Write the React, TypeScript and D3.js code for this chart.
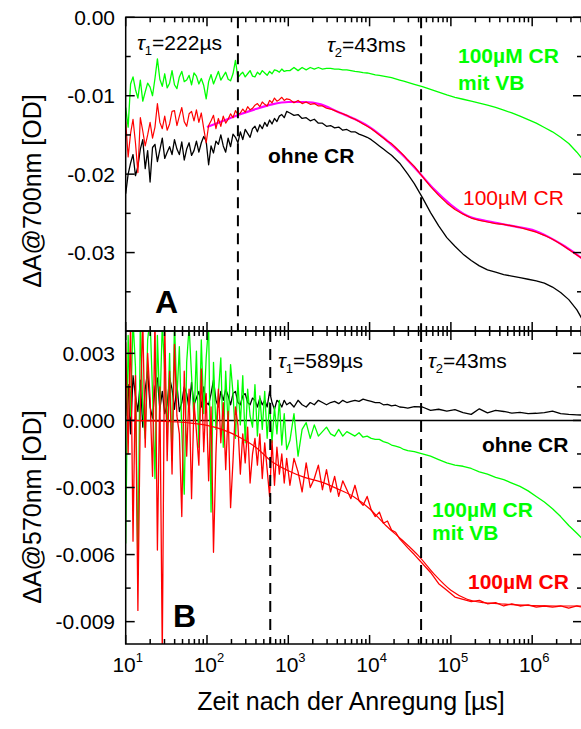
import React from "react";
import * as d3 from "d3";

// log10 of time (µs) shared by all measured traces
const logTime = [
  1.00,1.03,1.06,1.09,1.12,1.15,1.18,1.21,1.24,1.27,
  1.30,1.33,1.36,1.39,1.42,1.45,1.48,1.51,1.54,1.57,
  1.60,1.63,1.66,1.69,1.72,1.75,1.78,1.81,1.84,1.87,
  1.90,1.93,1.96,1.99,2.02,2.05,2.08,2.11,2.14,2.17,
  2.20,2.23,2.26,2.29,2.32,2.35,2.38,2.41,2.44,2.47,
  2.50,2.53,2.56,2.59,2.62,2.65,2.68,2.71,2.74,2.77,
  2.80,2.83,2.86,2.89,2.92,2.95,2.98,
  3.02,3.07,3.12,3.17,3.22,3.27,3.32,3.37,3.42,3.47,
  3.52,3.57,3.62,3.67,3.72,3.77,3.82,3.87,3.92,3.97,
  4.02,4.07,4.12,4.17,4.22,4.27,4.32,4.37,4.42,4.47,
  4.55,4.65,4.75,4.85,4.95,5.05,5.15,5.25,5.35,5.45,
  5.55,5.65,5.75,5.85,5.95,6.05,6.15,6.25,6.35,6.45,
  6.55,6.62,
];

// Panel A, ΔA@700nm in mOD
const greenA = [
  -11.5,-14.0,-8.5,-7.6,-9.2,-10.3,-8.0,-10.7,-9.5,-8.4,
  -8.9,-10.0,-7.8,-5.3,-7.9,-8.8,-7.2,-9.0,-8.4,-6.8,
  -8.6,-9.1,-7.6,-6.9,-8.2,-8.0,-7.4,-8.6,-7.1,-7.5,
  -8.5,-7.8,-8.7,-10.4,-8.2,-7.3,-8.5,-7.7,-6.9,-8.0,
  -7.5,-7.0,-7.9,-8.1,-7.2,-5.5,-7.7,-7.3,-7.0,-7.6,
  -7.2,-6.8,-7.5,-7.6,-7.0,-7.3,-6.8,-7.1,-7.4,-6.9,
  -7.2,-6.7,-6.8,-7.0,-6.6,-6.9,-6.8,
  -6.8,-6.4,-6.8,-6.4,-6.7,-6.4,-6.6,-6.4,-6.6,-6.5,
  -6.5,-6.6,-6.6,-6.7,-6.7,-6.8,-6.9,-6.95,-7.05,-7.1,
  -7.2,-7.35,-7.4,-7.5,-7.6,-7.7,-7.85,-8.0,-8.15,-8.3,
  -8.55,-8.85,-9.2,-9.55,-9.9,-10.2,-10.45,-10.7,-10.95,-11.2,
  -11.5,-11.85,-12.2,-12.6,-13.05,-13.5,-14.05,-14.6,-15.3,-16.1,
  -17.2,-18.1,
];
const blackA = [
  -22.5,-20.0,-18.6,-17.5,-20.2,-19.0,-16.8,-15.6,-19.3,-17.0,
  -21.0,-16.6,-16.2,-18.4,-16.9,-15.4,-18.0,-17.2,-16.5,-17.5,
  -15.6,-16.8,-17.5,-15.9,-18.2,-16.8,-16.0,-17.6,-17.0,-15.8,
  -17.2,-16.0,-15.2,-15.8,-18.8,-16.4,-17.3,-15.8,-16.2,-15.0,
  -16.4,-17.2,-15.4,-16.5,-14.9,-15.3,-16.0,-14.6,-15.6,-14.3,
  -14.8,-15.3,-14.2,-13.9,-14.6,-13.7,-14.2,-13.4,-13.9,-13.1,
  -13.6,-12.9,-13.3,-12.6,-12.4,-12.8,-12.0,
  -12.2,-12.5,-12.4,-12.9,-12.8,-13.2,-13.0,-13.5,-13.5,-13.9,
  -13.8,-14.1,-14.0,-14.4,-14.3,-14.6,-14.6,-14.9,-15.1,-15.3,
  -15.6,-16.0,-16.4,-16.8,-17.2,-17.6,-18.1,-18.6,-19.3,-20.0,
  -21.2,-23.0,-24.9,-26.6,-28.1,-29.2,-30.2,-31.0,-31.7,-32.2,
  -32.5,-32.8,-33.0,-33.2,-33.4,-33.6,-33.9,-34.4,-35.1,-36.0,
  -37.3,-38.6,
];
const redA = [
  -13.3,-17.8,-14.8,-13.0,-16.0,-19.8,-12.8,-14.5,-16.4,-15.0,
  -13.4,-15.4,-14.0,-11.0,-13.4,-14.2,-12.6,-14.4,-13.6,-12.0,
  -11.9,-13.8,-12.6,-11.5,-13.3,-13.9,-12.3,-12.0,-13.2,-11.8,
  -13.4,-12.2,-14.2,-16.0,-13.8,-13.2,-12.5,-14.2,-12.9,-13.9,
  -12.6,-13.5,-13.0,-12.3,-12.8,-11.9,-12.4,-12.2,-11.7,-12.1,
  -11.4,-11.8,-11.6,-11.2,-11.0,-11.4,-10.8,-11.1,-11.3,-10.6,
  -10.9,-10.3,-10.7,-10.5,-10.2,-10.6,-10.4,
  -10.5,-10.9,-10.6,-11.0,-10.8,-11.1,-11.0,-11.3,-11.3,-11.6,
  -11.7,-11.9,-12.1,-12.3,-12.5,-12.8,-13.0,-13.3,-13.6,-13.9,
  -14.2,-14.6,-15.0,-15.4,-15.8,-16.1,-16.6,-17.1,-17.6,-18.2,
  -19.0,-20.3,-21.6,-22.7,-23.7,-24.5,-25.1,-25.6,-25.9,-26.1,
  -26.3,-26.4,-26.6,-26.8,-27.1,-27.4,-27.8,-28.3,-28.9,-29.6,
  -30.3,-30.8,
];
const fitLogTimeA = [2.0,2.2,2.4,2.6,2.8,3.0,3.2,3.4,3.6,3.8,4.0,4.2,4.4,4.6,4.8,5.0,5.2,5.4,5.6,5.8,6.0,6.2,6.4,6.62];
const fitA = [-14.0,-13.2,-12.4,-11.7,-11.1,-10.8,-10.8,-11.1,-12.0,-12.9,-14.0,-15.6,-17.5,-19.7,-22.0,-23.9,-25.3,-25.9,-26.3,-26.7,-27.1,-28.0,-29.2,-30.8];

// Panel B, ΔA@570nm in mOD
const blackB = [
  0.2,1.6,-0.6,2.0,1.1,0.4,1.8,-0.3,1.4,2.2,
  0.6,0.1,1.5,1.9,0.5,1.3,0.3,0.7,1.9,1.4,
  0.5,1.6,0.4,0.8,1.5,1.2,0.5,1.7,0.7,1.0,
  1.3,0.6,1.5,0.8,0.7,1.2,1.8,0.9,0.6,1.3,
  0.9,1.4,1.1,0.7,1.2,1.3,0.8,0.7,1.1,1.2,
  0.8,0.7,1.0,0.9,0.6,1.0,0.7,0.9,0.6,1.3,
  0.8,0.5,0.9,0.8,0.6,0.9,0.7,
  0.8,0.6,0.9,0.7,0.6,0.8,0.7,0.9,0.8,0.7,
  0.8,0.85,0.75,0.9,0.8,0.85,0.9,0.85,0.95,0.9,
  0.85,0.8,0.8,0.7,0.72,0.65,0.68,0.6,0.58,0.55,
  0.62,0.6,0.45,0.5,0.42,0.48,0.35,0.27,0.52,0.34,
  0.45,0.4,0.33,0.36,0.3,0.32,0.35,0.42,0.3,0.27,
  0.25,0.24,
];
const greenB = [
  -5.5,3.8,0.2,4.5,2.4,-6.8,4.5,0.5,-0.8,3.6,
  4.6,1.2,-2.6,3.8,0.4,4.3,2.2,-0.6,3.0,-1.8,
  4.4,1.0,3.3,-0.5,-3.3,2.6,4.2,2.0,0.0,3.1,
  -1.2,3.6,0.3,2.8,4.3,-4.1,2.6,-0.4,1.2,2.8,
  -1.2,2.2,-0.3,2.5,1.2,-0.8,1.8,-0.2,2.0,-1.0,
  1.4,0.2,-0.3,1.6,-0.7,1.1,-0.4,1.3,-0.8,0.8,
  -1.0,0.6,-0.6,0.9,-1.1,0.3,-1.3,
  -0.9,0.3,-1.6,-0.4,-0.1,-0.8,-0.2,-0.7,-0.5,-0.3,
  -0.6,-0.7,-0.4,-0.7,-0.5,-0.6,-0.7,-0.55,-0.75,-0.7,
  -0.8,-0.85,-0.85,-0.95,-1.0,-1.1,-1.15,-1.2,-1.3,-1.35,
  -1.4,-1.5,-1.6,-1.75,-1.9,-2.0,-2.05,-2.15,-2.3,-2.4,
  -2.55,-2.65,-2.8,-2.95,-3.15,-3.4,-3.65,-3.95,-4.3,-4.7,
  -5.05,-5.3,
];
const redB = [
  3.5,-1.5,4.5,-5.4,2.0,-8.5,0.5,4.5,-1.2,3.0,
  1.0,-2.5,4.6,-5.8,1.5,-10.5,4.5,-1.8,2.2,-2.4,
  3.4,0.2,-0.6,-4.3,2.2,-1.6,1.4,-3.5,0.8,-0.5,
  -2.0,2.3,-1.4,1.2,-2.7,0.6,-5.9,-1.5,1.4,-1.0,
  0.8,-2.2,0.4,-3.9,-1.8,0.6,-0.2,-2.4,-0.6,-1.9,
  -0.3,-2.8,-1.5,-0.8,-2.0,-0.6,-2.6,-1.0,-2.2,-3.4,
  -0.9,-2.9,-1.2,-2.4,-1.5,-2.8,-1.7,
  -2.9,-1.7,-2.3,-3.2,-1.9,-3.0,-2.6,-2.0,-3.1,-2.2,
  -3.2,-2.5,-3.4,-2.7,-3.1,-3.5,-2.9,-3.6,-3.8,-3.4,
  -4.0,-4.3,-4.1,-4.6,-4.5,-4.9,-5.0,-5.3,-5.5,-5.7,
  -6.0,-6.4,-6.8,-7.3,-7.6,-7.9,-8.0,-8.1,-8.05,-8.2,
  -8.15,-8.3,-8.2,-8.3,-8.25,-8.35,-8.3,-8.35,-8.3,-8.4,
  -8.3,-8.35,
];
const fitLogTimeB = [1.0,1.4,1.8,2.0,2.2,2.4,2.6,2.8,3.0,3.2,3.4,3.6,3.8,4.0,4.2,4.4,4.6,4.8,5.0,5.2,5.4,5.6,5.8,6.0,6.3,6.62];
const fitB = [0,-0.03,-0.12,-0.22,-0.42,-0.75,-1.2,-1.85,-2.25,-2.55,-2.75,-3.05,-3.4,-3.95,-4.7,-5.35,-6.05,-6.9,-7.6,-8.0,-8.15,-8.2,-8.25,-8.28,-8.3,-8.3];

const tauLinesA = [240, 43000];
const tauLinesB = [600, 43000];
const yTicksA = [0, -10, -20, -30];
const yMinorA = [-5, -15, -25, -35];
const yTicksB = [3, 0, -3, -6, -9];
const yMinorB = [1.5, -1.5, -4.5, -7.5];
const xDecades = [1, 2, 3, 4, 5, 6];

const FONT = "'Liberation Sans', Arial, Helvetica, sans-serif";
const GREEN = "#00ff00";
const RED = "#ff0000";
const MAGENTA = "#ff00ff";

const L = 125.7, R = 582;
const A_TOP = 17.3, MID = 331, B_BOT = 644;

const x = d3.scaleLog().domain([10, 4.1e6]).range([L, R]);
const yA = d3.scaleLinear().domain([-40, 0]).range([MID, A_TOP]);
const yB = d3.scaleLinear().domain([-10, 4]).range([B_BOT, MID]);

function pathFor(lt: number[], vals: number[], y: d3.ScaleLinear<number, number>, curve?: d3.CurveFactory) {
  const pts = vals.map((v, i) => [x(Math.pow(10, lt[i])), y(v)] as [number, number]);
  const ln = d3.line();
  if (curve) ln.curve(curve);
  return ln(pts) || "";
}

const minorX: number[] = [];
xDecades.forEach((k) => {
  for (let m = 2; m <= 9; m++) {
    const v = m * Math.pow(10, k);
    if (v < 4.1e6) minorX.push(v);
  }
});

function Frame({ top, bottom, y, majors, minors }: any) {
  const els: any[] = [];
  majors.forEach((v: number, i: number) => {
    els.push(<line key={"lm" + i} x1={L} x2={L + 9} y1={y(v)} y2={y(v)} />);
    els.push(<line key={"rm" + i} x1={R} x2={R - 9} y1={y(v)} y2={y(v)} />);
  });
  minors.forEach((v: number, i: number) => {
    els.push(<line key={"ln" + i} x1={L} x2={L + 5} y1={y(v)} y2={y(v)} />);
    els.push(<line key={"rn" + i} x1={R} x2={R - 5} y1={y(v)} y2={y(v)} />);
  });
  xDecades.forEach((k) => {
    const xv = x(Math.pow(10, k));
    els.push(<line key={"tm" + k} x1={xv} x2={xv} y1={top} y2={top + 9} />);
    els.push(<line key={"bm" + k} x1={xv} x2={xv} y1={bottom} y2={bottom - 9} />);
  });
  minorX.forEach((v, i) => {
    const xv = x(v);
    els.push(<line key={"tn" + i} x1={xv} x2={xv} y1={top} y2={top + 5} />);
    els.push(<line key={"bn" + i} x1={xv} x2={xv} y1={bottom} y2={bottom - 5} />);
  });
  return (
    <g stroke="#000" strokeWidth={1.5}>
      {els}
      <rect x={L} y={top} width={R - L} height={bottom - top} fill="none" />
    </g>
  );
}

function Tau({ xPos, yPos, sub, rest }: any) {
  return (
    <text x={xPos} y={yPos} fontSize={21} fontFamily={FONT} fill="#000">
      <tspan fontStyle="italic">τ</tspan>
      <tspan fontSize={13} dy={5}>{sub}</tspan>
      <tspan dy={-5}>{rest}</tspan>
    </text>
  );
}

export default function App() {
  const fmtA = (v: number) => (v / 1000).toFixed(2);
  const fmtB = (v: number) => (v / 1000).toFixed(3);
  return (
    <svg width={581} height={729} style={{ position: "absolute", left: 0, top: 0, background: "#fff" }} fontFamily={FONT}>
      <defs>
        <clipPath id="clipA"><rect x={L} y={A_TOP} width={R - L} height={MID - A_TOP} /></clipPath>
        <clipPath id="clipB"><rect x={L} y={MID} width={R - L} height={B_BOT - MID} /></clipPath>
      </defs>
      <rect x={0} y={0} width={581} height={729} fill="#fff" />

      {/* Panel A */}
      <g clipPath="url(#clipA)" fill="none" strokeLinejoin="round">
        <path d={pathFor(logTime, greenA, yA)} stroke={GREEN} strokeWidth={1.3} />
        <path d={pathFor(logTime, blackA, yA)} stroke="#000" strokeWidth={1.3} />
        <path d={pathFor(fitLogTimeA, fitA, yA, d3.curveMonotoneX)} stroke={MAGENTA} strokeWidth={2.2} />
        <path d={pathFor(logTime, redA, yA)} stroke={RED} strokeWidth={1.2} />
        {tauLinesA.map((t, i) => (
          <line key={i} x1={x(t)} x2={x(t)} y1={A_TOP} y2={MID} stroke="#000" strokeWidth={2} strokeDasharray="11,7" />
        ))}
      </g>

      {/* Panel B */}
      <g clipPath="url(#clipB)" fill="none" strokeLinejoin="round">
        <line x1={L} x2={R} y1={yB(0)} y2={yB(0)} stroke="#000" strokeWidth={1.5} />
        <path d={pathFor(logTime, blackB, yB)} stroke="#000" strokeWidth={1.3} />
        <path d={pathFor(logTime, greenB, yB)} stroke={GREEN} strokeWidth={1.3} />
        <path d={pathFor(logTime, redB, yB)} stroke={RED} strokeWidth={1.3} />
        <path d={pathFor(fitLogTimeB, fitB, yB, d3.curveMonotoneX)} stroke={RED} strokeWidth={1.2} />
        {tauLinesB.map((t, i) => (
          <line key={i} x1={x(t)} x2={x(t)} y1={MID} y2={B_BOT} stroke="#000" strokeWidth={2} strokeDasharray="11,7" />
        ))}
      </g>

      <Frame top={A_TOP} bottom={MID} y={yA} majors={yTicksA} minors={yMinorA} />
      <Frame top={MID} bottom={B_BOT} y={yB} majors={yTicksB} minors={yMinorB} />

      {/* y tick labels */}
      <g fontSize={21} textAnchor="end" fill="#000">
        {yTicksA.map((v) => (
          <text key={v} x={115} y={yA(v)} dy="0.36em">{fmtA(v)}</text>
        ))}
        {yTicksB.map((v) => (
          <text key={v} x={115} y={yB(v)} dy="0.36em">{fmtB(v)}</text>
        ))}
      </g>

      {/* x tick labels */}
      <g fontSize={21} textAnchor="middle" fill="#000">
        {xDecades.map((k) => (
          <text key={k} x={x(Math.pow(10, k)) + 2} y={672}>
            10<tspan fontSize={13} dy={-10}>{k}</tspan>
          </text>
        ))}
      </g>

      {/* axis titles */}
      <text x={351} y={710} fontSize={25} textAnchor="middle">Zeit nach der Anregung [µs]</text>
      <text transform="translate(41,191) rotate(-90)" fontSize={25} textAnchor="middle">ΔA@700nm [OD]</text>
      <text transform="translate(41,507) rotate(-90)" fontSize={25} textAnchor="middle">ΔA@570nm [OD]</text>

      {/* annotations panel A */}
      <Tau xPos={137} yPos={50} sub="1" rest="=222µs" />
      <Tau xPos={327} yPos={52} sub="2" rest="=43ms" />
      <text x={458} y={63} fontSize={21} fontWeight="bold" fill={GREEN}>100µM CR</text>
      <text x={458} y={90} fontSize={21} fontWeight="bold" fill={GREEN}>mit VB</text>
      <text x={268} y={163} fontSize={21} fontWeight="bold" fill="#000">ohne CR</text>
      <text x={463} y={205} fontSize={21} fill={RED}>100µM CR</text>
      <text x={155} y={313} fontSize={32} fontWeight="bold" fill="#000">A</text>

      {/* annotations panel B */}
      <Tau xPos={278} yPos={368} sub="1" rest="=589µs" />
      <Tau xPos={428} yPos={368} sub="2" rest="=43ms" />
      <text x={482} y={452} fontSize={21} fontWeight="bold" fill="#000">ohne CR</text>
      <text x={432} y={517} fontSize={21} fontWeight="bold" fill={GREEN}>100µM CR</text>
      <text x={432} y={540} fontSize={21} fontWeight="bold" fill={GREEN}>mit VB</text>
      <text x={468} y={589} fontSize={21} fontWeight="bold" fill={RED}>100µM CR</text>
      <text x={173} y={627} fontSize={32} fontWeight="bold" fill="#000">B</text>
    </svg>
  );
}
